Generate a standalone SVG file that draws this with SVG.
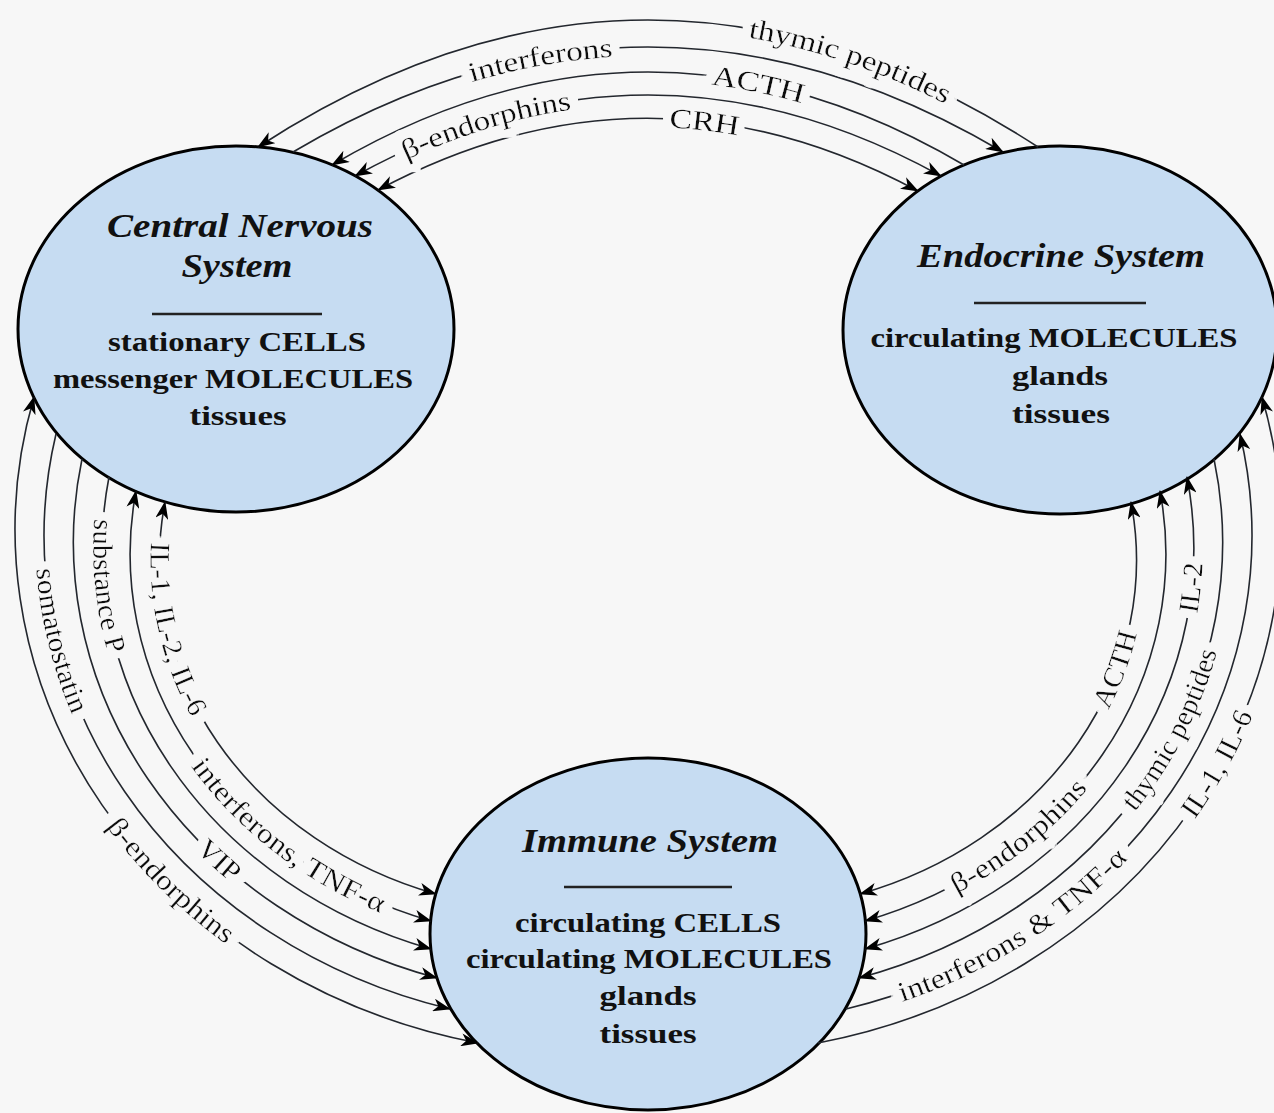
<svg xmlns="http://www.w3.org/2000/svg" xmlns:xlink="http://www.w3.org/1999/xlink" width="1274" height="1113" viewBox="0 0 1274 1113">
<style>
.node{fill:#c6dcf2;stroke:#000;stroke-width:3}
.rule{stroke:#222;stroke-width:2.5}
.title{font-family:"Liberation Serif","Times New Roman",serif;font-style:italic;font-weight:bold;font-size:34px;fill:#111;text-anchor:middle}
.body{font-family:"Liberation Serif","Times New Roman",serif;font-weight:bold;font-size:28px;fill:#111;text-anchor:middle}
.conn{fill:none;stroke:#23272e;stroke-width:1.6}
.lbl{font-family:"Liberation Serif","Times New Roman",serif;font-size:28px;fill:#111;text-anchor:middle;filter:url(#halo)}
</style>
<defs>
<marker id="ah" viewBox="0 0 18 13" markerWidth="18" markerHeight="13" refX="17" refY="6.5" orient="auto-start-reverse" markerUnits="userSpaceOnUse">
<path d="M0,0 L18,6.5 L0,13 L5,6.5 z" fill="#000"/>
</marker>
<filter id="halo" x="-25%" y="-25%" width="150%" height="150%">
<feMorphology in="SourceAlpha" operator="dilate" radius="8" result="d"/>
<feFlood flood-color="#f7f7f7" result="bg"/>
<feComposite in="bg" in2="d" operator="in" result="h"/>
<feMerge><feMergeNode in="h"/><feMergeNode in="SourceGraphic"/></feMerge>
</filter>
</defs>
<rect x="0" y="0" width="1274" height="1113" fill="#f7f7f7"/>

<g id="nodes">
<g id="cns">
<ellipse class="node" cx="236" cy="329" rx="218" ry="183"/>
<text class="title" x="240" y="237" textLength="266" lengthAdjust="spacingAndGlyphs">Central Nervous</text>
<text class="title" x="237" y="277" textLength="111" lengthAdjust="spacingAndGlyphs">System</text>
<line class="rule" x1="152" y1="314" x2="322" y2="314"/>
<text class="body" x="237" y="351" textLength="258" lengthAdjust="spacingAndGlyphs">stationary CELLS</text>
<text class="body" x="233" y="388" textLength="360" lengthAdjust="spacingAndGlyphs">messenger MOLECULES</text>
<text class="body" x="238" y="425" textLength="97" lengthAdjust="spacingAndGlyphs">tissues</text>
</g>
<g id="endocrine">
<ellipse class="node" cx="1060" cy="330" rx="217" ry="184"/>
<text class="title" x="1061" y="267" textLength="288" lengthAdjust="spacingAndGlyphs">Endocrine System</text>
<line class="rule" x1="974" y1="303" x2="1146" y2="303"/>
<text class="body" x="1054" y="347" textLength="367" lengthAdjust="spacingAndGlyphs">circulating MOLECULES</text>
<text class="body" x="1060" y="385" textLength="96" lengthAdjust="spacingAndGlyphs">glands</text>
<text class="body" x="1061" y="423" textLength="98" lengthAdjust="spacingAndGlyphs">tissues</text>
</g>
<g id="immune">
<ellipse class="node" cx="648" cy="934" rx="218" ry="176"/>
<text class="title" x="650" y="852" textLength="256" lengthAdjust="spacingAndGlyphs">Immune System</text>
<line class="rule" x1="564" y1="887" x2="732" y2="887"/>
<text class="body" x="648" y="932" textLength="266" lengthAdjust="spacingAndGlyphs">circulating CELLS</text>
<text class="body" x="649" y="968" textLength="366" lengthAdjust="spacingAndGlyphs">circulating MOLECULES</text>
<text class="body" x="648" y="1005" textLength="97" lengthAdjust="spacingAndGlyphs">glands</text>
<text class="body" x="648" y="1043" textLength="97" lengthAdjust="spacingAndGlyphs">tissues</text>
</g>
</g>

<g id="connectors">
<path id="t1" class="conn" d="M258,147 Q648,-107 1038,147" marker-start="url(#ah)"/>
<path id="t2" class="conn" d="M293,152 Q648,-58 1003,152" marker-end="url(#ah)"/>
<path id="t3" class="conn" d="M332,165 Q648,-21 964,165" marker-start="url(#ah)"/>
<path id="t4" class="conn" d="M355,176 Q648,14 941,176" marker-start="url(#ah)" marker-end="url(#ah)"/>
<path id="t5" class="conn" d="M378,190 Q648,46 918,191" marker-start="url(#ah)" marker-end="url(#ah)"/>

<path id="e1" class="conn" d="M34,397 A585,525 0 0 0 478,1043" marker-start="url(#ah)" marker-end="url(#ah)"/>
<path id="e2" class="conn" d="M56,434 A548,490 0 0 0 450,1009" marker-end="url(#ah)"/>
<path id="e3" class="conn" d="M82,459 A511,455 0 0 0 437,978" marker-end="url(#ah)"/>
<path id="e4" class="conn" d="M109,477 A474,421 0 0 0 431,949" marker-end="url(#ah)"/>
<path id="e5" class="conn" d="M136,491 A437,386 0 0 0 431,921" marker-start="url(#ah)" marker-end="url(#ah)"/>
<path id="e6" class="conn" d="M165,502 A400,351 0 0 0 436,894" marker-start="url(#ah)" marker-end="url(#ah)"/>

<path id="r1" class="conn" d="M860,894 A400,351 0 0 0 1131,502" marker-start="url(#ah)" marker-end="url(#ah)"/>
<path id="r2" class="conn" d="M865,921 A437,386 0 0 0 1160,491" marker-start="url(#ah)" marker-end="url(#ah)"/>
<path id="r3" class="conn" d="M865,949 A474,421 0 0 0 1187,477" marker-start="url(#ah)" marker-end="url(#ah)"/>
<path id="r4" class="conn" d="M859,978 A511,455 0 0 0 1214,459" marker-start="url(#ah)"/>
<path id="r5" class="conn" d="M846,1009 A548,490 0 0 0 1240,434" marker-end="url(#ah)"/>
<path id="r6" class="conn" d="M818,1043 A585,525 0 0 0 1262,397" marker-end="url(#ah)"/>

<g id="connector-labels">
<text class="lbl" dy="0.32em"><textPath href="#t1" startOffset="75%" textLength="212" lengthAdjust="spacingAndGlyphs">thymic peptides</textPath></text>
<text class="lbl" dy="0.32em"><textPath href="#t2" startOffset="35.5%" textLength="146" lengthAdjust="spacingAndGlyphs">interferons</textPath></text>
<text class="lbl" dy="0.32em"><textPath href="#t3" startOffset="66.7%" textLength="94" lengthAdjust="spacingAndGlyphs">ACTH</textPath></text>
<text class="lbl" dy="0.32em"><textPath href="#t4" startOffset="23%" textLength="176" lengthAdjust="spacingAndGlyphs">β-endorphins</textPath></text>
<text class="lbl" dy="0.32em"><textPath href="#t5" startOffset="60%" textLength="70" lengthAdjust="spacingAndGlyphs">CRH</textPath></text>

<text class="lbl" dy="0.32em"><textPath href="#e1" startOffset="60%" textLength="166" lengthAdjust="spacingAndGlyphs">β-endorphins</textPath></text>
<text class="lbl" dy="0.32em"><textPath href="#e2" startOffset="27%" textLength="148" lengthAdjust="spacingAndGlyphs">somatostatin</textPath></text>
<text class="lbl" dy="0.32em"><textPath href="#e3" startOffset="64%" textLength="48" lengthAdjust="spacingAndGlyphs">VIP</textPath></text>
<text class="lbl" dy="0.32em"><textPath href="#e4" startOffset="17.5%" textLength="134" lengthAdjust="spacingAndGlyphs">substance P</textPath></text>
<text class="lbl" dy="0.32em"><textPath href="#e5" startOffset="70.5%" textLength="238" lengthAdjust="spacingAndGlyphs">interferons, TNF-α</textPath></text>
<text class="lbl" dy="0.32em"><textPath href="#e6" startOffset="24.8%" textLength="177" lengthAdjust="spacingAndGlyphs">IL-1, IL-2, IL-6</textPath></text>

<text class="lbl" dy="0.32em"><textPath href="#r1" startOffset="67.5%" textLength="80" lengthAdjust="spacingAndGlyphs">ACTH</textPath></text>
<text class="lbl" dy="0.32em"><textPath href="#r2" startOffset="31%" textLength="166" lengthAdjust="spacingAndGlyphs">β-endorphins</textPath></text>
<text class="lbl" dy="0.32em"><textPath href="#r3" startOffset="82.3%" textLength="50" lengthAdjust="spacingAndGlyphs">IL-2</textPath></text>
<text class="lbl" dy="0.32em"><textPath href="#r4" startOffset="59.5%" textLength="178" lengthAdjust="spacingAndGlyphs">thymic peptides</textPath></text>
<text class="lbl" dy="0.32em"><textPath href="#r5" startOffset="24.3%" textLength="266" lengthAdjust="spacingAndGlyphs">interferons &amp; TNF-α</textPath></text>
<text class="lbl" dy="0.32em"><textPath href="#r6" startOffset="57%" textLength="118" lengthAdjust="spacingAndGlyphs">IL-1, IL-6</textPath></text>
</g>
</g>
</svg>
